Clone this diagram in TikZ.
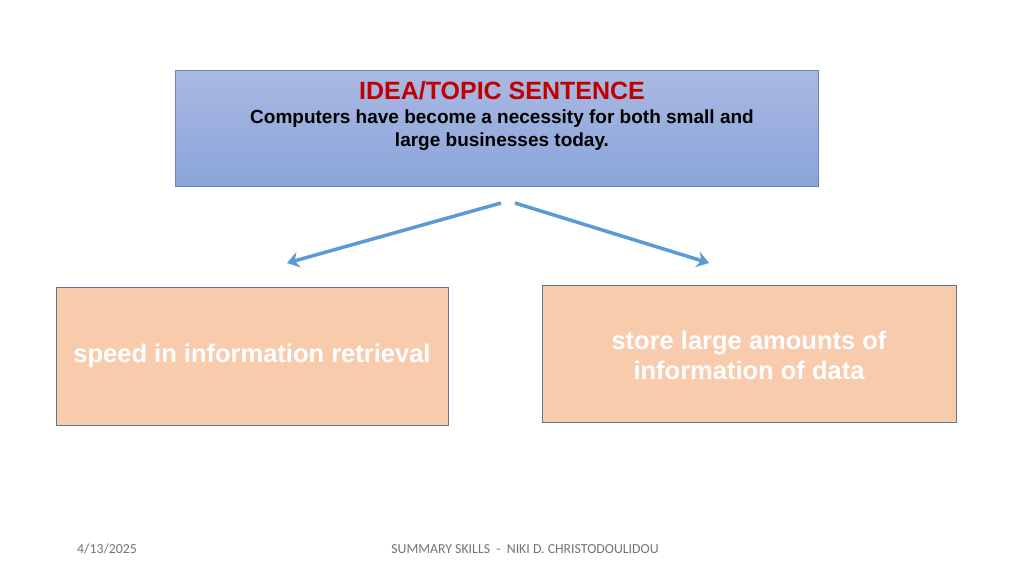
\documentclass[tikz,border=0pt]{standalone}
\usepackage{fontspec}
\usetikzlibrary{arrows.meta}
\setmainfont{Liberation Sans}
\setsansfont{Carlito}
\definecolor{topa}{HTML}{AAB9E2}
\definecolor{topb}{HTML}{8AA4DA}
\definecolor{peach}{HTML}{F7CBAC}
\definecolor{arr}{HTML}{5B9BD5}
\definecolor{ttl}{HTML}{C00000}
\definecolor{pb}{HTML}{5F7590}
\begin{document}
\begin{tikzpicture}[x=1pt,y=-1pt,
  pbox/.style={draw=pb,line width=0.8pt,fill=peach},
  ptext/.style={text=white,font=\fontsize{25.5}{30}\selectfont\bfseries,align=center},
  conn/.style={draw=arr,line width=3.5pt,-{Stealth[length=12pt,width=16pt]}},
  foot/.style={text=black!55,font=\sffamily\fontsize{13.8}{16}\selectfont}]
\useasboundingbox (0,0) rectangle (1024,576);
\shade[top color=topa,bottom color=topb,draw=topb!80!black,line width=0.8pt] (175,70) rectangle (818,186);
\node (tt) at (502,91) [text=ttl,font=\fontsize{25}{28}\selectfont\bfseries] {IDEA/TOPIC SENTENCE};
\node (tb) at (502,130) [align=center,font=\fontsize{19}{23}\selectfont\bfseries] {Computers have become a necessity for both small and\\large businesses today.};
\draw[pbox] (56,287) rectangle (448,425);
\node[ptext] (l) at (252,356) {speed in information retrieval};
\draw[pbox] (542,285) rectangle (956,422);
\node[ptext] (r) at (749,355) {store large amounts of\\information of data};
\coordinate (s1) at (501,203); \coordinate (e1) at (287,263);
\coordinate (s2) at (515,203); \coordinate (e2) at (709,263);
\draw[conn] (s1) -- (e1);
\draw[conn] (s2) -- (e2);
\node[foot] (d) at (107,549) {4/13/2025};
\node[foot] (f) at (525,549) {SUMMARY SKILLS \ - \ NIKI D. CHRISTODOULIDOU};
\end{tikzpicture}
\end{document}
